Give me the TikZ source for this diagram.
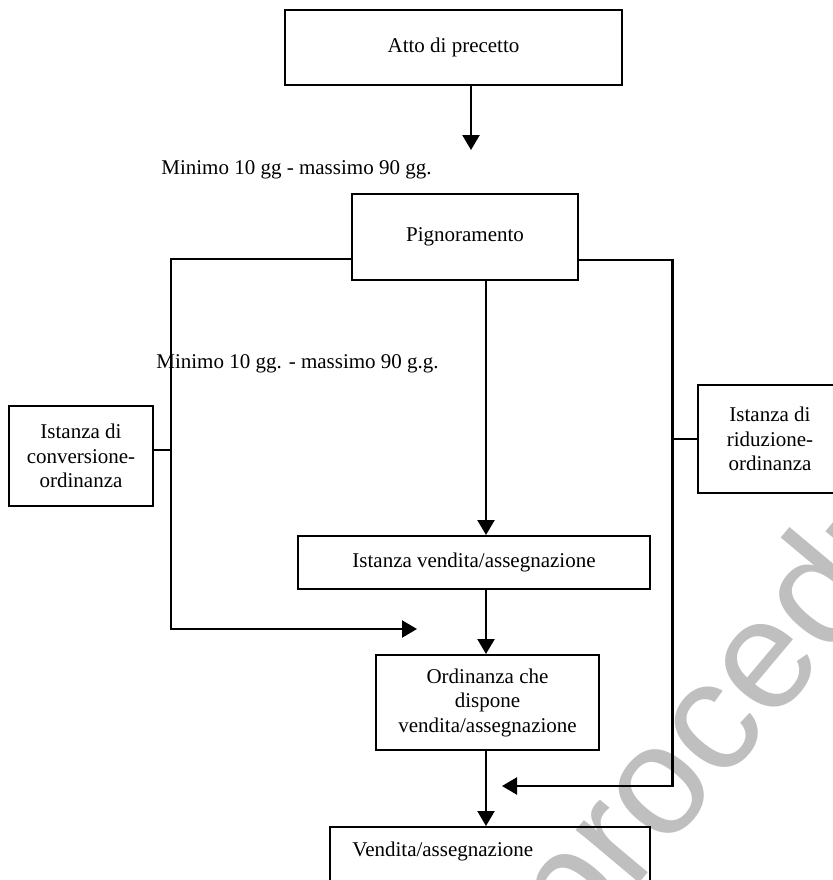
\documentclass[tikz,border=0pt]{standalone}
\usepackage{fontspec}
\setmainfont{Liberation Serif}
\newfontfamily\wmfont{Liberation Sans}
\usetikzlibrary{arrows.meta}
\begin{document}
\begin{tikzpicture}[x=0.5pt,y=-0.5pt,
  box/.style={draw,line width=1pt,inner sep=0pt,align=center,
    font=\fontsize{10.5}{12.25}\selectfont},
  conn/.style={line width=1.15pt},
  arr/.style={line width=1.15pt,-{Triangle[width=8.5pt,length=7.5pt]}},
  lbl/.style={inner sep=0pt,anchor=base west,font=\fontsize{10.5}{12.25}\selectfont}]
\useasboundingbox (0,0) rectangle (833,880);
\clip (0,0) rectangle (833,880);
% watermark
\node[inner sep=0pt,anchor=base west,rotate=50,text=black!25,
  font=\wmfont\fontsize{78}{78}\selectfont] (wm) at (576,958) {procedura};
% boxes
\node[box,minimum width=168.5pt,minimum height=37.5pt] (atto) at (453.5,47.5) {Atto di precetto};
\node[box,minimum width=113pt,minimum height=43pt] (pign) at (465,237) {Pignoramento};
\node[box,minimum width=72pt,minimum height=50pt] (conv) at (81,456) {Istanza di\\conversione-\\ordinanza};
\node[box,minimum width=72pt,minimum height=54pt] (rid) at (770,439) {Istanza di\\riduzione-\\ordinanza};
\node[box,minimum width=176pt,minimum height=26.5pt] (ist) at (474,562.5) {Istanza vendita/assegnazione};
\node[box,minimum width=111.5pt,minimum height=47.5pt] (ord) at (487.5,702.5) {Ordinanza che\\dispone\\vendita/assegnazione};
\node[box,minimum width=160pt,minimum height=50pt] (vend) at (490,877) {};
\node[lbl,anchor=west] (vendt) at (352,851) {Vendita/assegnazione};
% labels
\node[lbl] (t1) at (161,174) {Minimo 10 gg - massimo 90 gg.};
\node[lbl] (t2) at (156,368) {Minimo 10 gg. - massimo 90 g.g.};
% coordinates
\coordinate (a1) at (471,150);
\coordinate (m) at (486,0);
\coordinate (l1) at (171,259);
\coordinate (l2) at (171,629);
\coordinate (l3) at (417,629);
\coordinate (c1) at (171,450);
\coordinate (r1) at (672.5,260);
\coordinate (r2) at (672.5,786);
\coordinate (r3) at (502,786);
% connectors
\draw[arr] (a1|-atto.south) -- (a1);
\draw[arr] (pign.west|-l1) -- (l1) -- (l2) -- (l3);
\draw[conn] (conv.east|-c1) -- (c1);
\draw[arr] (pign.east|-r1) -- (r1) -- (r2) -- (r3);
\draw[conn] (r1|-rid.west) -- (rid.west);
\draw[arr] (pign.south-|m) -- (ist.north-|m);
\draw[arr] (ist.south-|m) -- (ord.north-|m);
\draw[arr] (ord.south-|m) -- (vend.north-|m);
\end{tikzpicture}
\end{document}
